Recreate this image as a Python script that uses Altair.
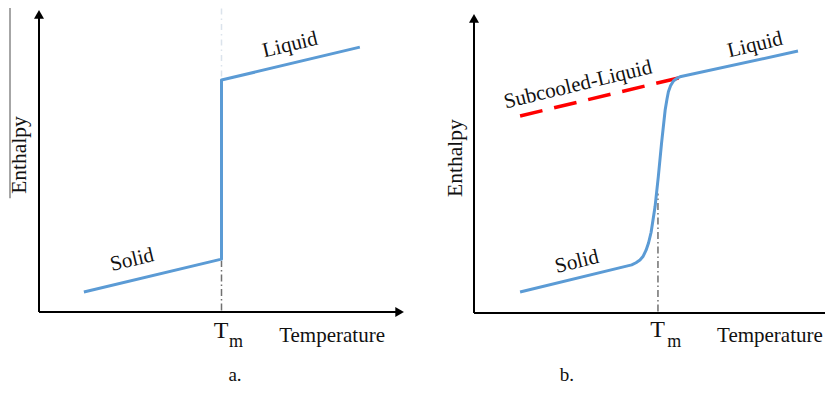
import altair as alt
import pandas as pd

# ---------------- data (arbitrary units, axes run 0..100) ----------------
# Panel a: ideal melting (sharp step at Tm)
a_temp = [12.3, 50.0, 50.0, 87.9]
a_enth = [6.6, 17.5, 76.8, 87.7]
a_tm = 50.0
a_tm_top = 17.0

# Panel b: gradual melting with subcooled liquid branch
b_temp = [12.8, 43.8, 45.0, 46.1, 47.0, 47.8, 48.5, 49.2, 50.3, 51.2, 52.1, 53.1, 53.6, 54.0,
          54.6, 55.4, 56.3, 57.2, 90.0]
b_enth = [7.0, 16.1, 16.8, 17.7, 19.0, 21.0, 23.5, 27.0, 35.6, 45.6, 56.8, 67.9, 71.5, 74.0,
          76.0, 77.6, 78.5, 79.0, 87.6]
b_sub_temp = [12.8, 57.5]
b_sub_enth = [65.9, 78.8]
b_tm = 51.1
b_tm_top = 40.0

# text labels: (text, temperature, enthalpy, font size, angle)
a_labels = [
    ("Liquid", 68.8, 88.4, 21, 346.5),
    ("Solid", 25.5, 17.2, 21, 346.5),
    ("Enthalpy", -5.2, 52.0, 21.5, 270),
]
b_labels = [
    ("Liquid", 78.1, 89.6, 21, 346.5),
    ("Subcooled-Liquid", 28.9, 76.3, 21, 346.5),
    ("Solid", 28.6, 17.1, 21, 346.5),
    ("Enthalpy", -5.0, 51.8, 21.5, 270),
]
# baseline-anchored texts: (text, temperature, enthalpy, font size)
a_base = [("T", 49.9, -8.6, 24), ("m", 54.0, -11.6, 18),
          ("Temperature", 80.3, -9.9, 21), ("a.", 53.7, -22.9, 19)]
b_base = [("T", 51.0, -8.0, 24), ("m", 55.6, -11.4, 18),
          ("Temperature", 82.2, -9.7, 21), ("b.", 25.8, -22.7, 19)]

FONT = "Liberation Serif"
BLUE = "#5b9bd5"


def panel(width, height, xdom, ydom, curve_t, curve_h, tm, tm_top, labels, base,
          arrow_x, arrow_y, extra=None, left_rule=None, faint=None):
    xs = alt.Scale(domain=xdom, nice=False, zero=False)
    ys = alt.Scale(domain=ydom, nice=False, zero=False)
    X = lambda f: alt.X(f, type="quantitative", scale=xs, axis=None)
    Y = lambda f: alt.Y(f, type="quantitative", scale=ys, axis=None)

    layers = []
    axes = pd.DataFrame([
        {"t": 0, "h": arrow_y[1], "t2": 0, "h2": 0},
        {"t": 0, "h": 0, "t2": arrow_x[0], "h2": 0},
    ])
    layers.append(alt.Chart(axes).mark_rule(color="#000", strokeWidth=2, clip=True).encode(
        x=X("t"), y=Y("h"), x2="t2", y2="h2"))
    arrows = [{"t": 0, "h": arrow_y[0], "s": "triangle-up"}]
    if arrow_x[1]:
        arrows.append({"t": arrow_x[0], "h": 0, "s": "triangle-right"})
    layers.append(alt.Chart(pd.DataFrame(arrows)).mark_point(
        filled=True, color="#000", opacity=1, size=100, clip=True).encode(
        x=X("t"), y=Y("h"), shape=alt.Shape("s:N", scale=None)))

    if left_rule is not None:
        layers.append(alt.Chart(pd.DataFrame([left_rule])).mark_rule(
            color="#888", strokeWidth=1.5, clip=True).encode(x=X("t"), y=Y("h"), y2="h2"))
    if faint is not None:
        layers.append(alt.Chart(pd.DataFrame([faint])).mark_rule(
            color="#dbe3ec", strokeWidth=1.5, strokeDash=[6, 4, 1.5, 4], clip=True).encode(
            x=X("t"), y=Y("h"), y2="h2"))

    layers.append(alt.Chart(pd.DataFrame([{"t": tm, "h": 0.5, "h2": tm_top}])).mark_rule(
        color="#707070", strokeWidth=1.5, strokeDash=[7, 3, 1.5, 3], clip=True).encode(
        x=X("t"), y=Y("h"), y2="h2"))

    if extra is not None:
        layers.append(alt.Chart(pd.DataFrame({"t": extra[0], "h": extra[1], "o": range(len(extra[0]))}))
                      .mark_line(color="#ff0000", strokeWidth=3.5, strokeDash=[23, 12], clip=True)
                      .encode(x=X("t"), y=Y("h"), order="o:Q"))

    layers.append(alt.Chart(pd.DataFrame({"t": curve_t, "h": curve_h, "o": range(len(curve_t))}))
                  .mark_line(color=BLUE, strokeWidth=3, strokeJoin="round", clip=True)
                  .encode(x=X("t"), y=Y("h"), order="o:Q"))

    lab = pd.DataFrame(labels, columns=["txt", "t", "h", "fs", "ang"])
    layers.append(alt.Chart(lab).mark_text(font=FONT, color="#111", align="center",
                                           baseline="middle", clip=True).encode(
        x=X("t"), y=Y("h"), text="txt:N",
        size=alt.Size("fs:Q", scale=None), angle=alt.Angle("ang:Q", scale=None)))

    bl = pd.DataFrame(base, columns=["txt", "t", "h", "fs"])
    layers.append(alt.Chart(bl).mark_text(font=FONT, color="#111", align="center",
                                          baseline="alphabetic").encode(
        x=X("t"), y=Y("h"), text="txt:N", size=alt.Size("fs:Q", scale=None)))

    return alt.layer(*layers).properties(width=width, height=height)


H = 379
BOTTOM = 8 + H
# panel a: origin at pixel (39,312) of the picture, 3.65 px per unit in x, 3.02 in y
pa = panel(410, H,
           [(8 - 39) / 3.65, (418 - 39) / 3.65],
           [(312 - BOTTOM) / 3.02, (312 - 8) / 3.02],
           a_temp, a_enth, a_tm, a_tm_top, a_labels, a_base,
           arrow_x=(98.8, True), arrow_y=(98.57, 98.0),
           left_rule={"t": (10 - 39) / 3.65, "h": 101.0, "h2": 37.7},
           faint={"t": a_tm, "h": 100.5, "h2": 78.0})
# panel b: origin at pixel (474,313), 3.6 px per unit in x, 2.99 in y
pb = panel(407, H,
           [(418 - 474) / 3.6, (825 - 474) / 3.6],
           [(313 - BOTTOM) / 2.99, (313 - 8) / 2.99],
           b_temp, b_enth, b_tm, b_tm_top, b_labels, b_base,
           arrow_x=(110, False), arrow_y=(98.56, 98.0),
           extra=(b_sub_temp, b_sub_enth))

chart = alt.hconcat(pa, pb, spacing=0).configure_view(stroke=None).properties(padding=0)
chart.save("out.html", embed_options={"renderer": "svg", "actions": False})
